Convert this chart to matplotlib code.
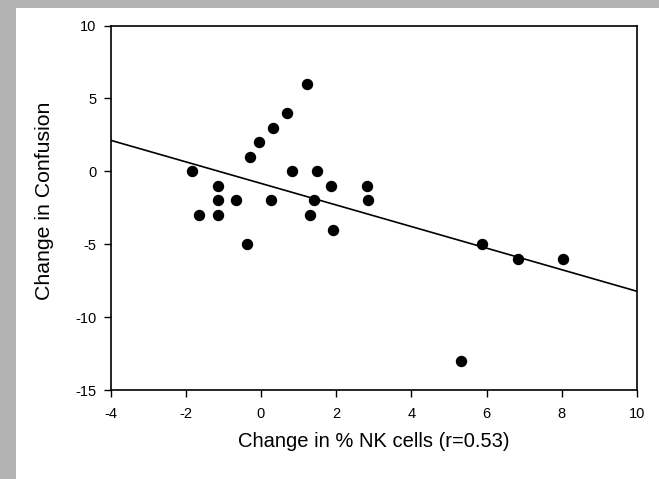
import numpy as np
import matplotlib
matplotlib.use("Agg")
import matplotlib.pyplot as plt
from matplotlib.patches import Rectangle

# data
nk_change = [-1.82, -1.66, -1.13, -1.13, -1.13, -0.67, -0.38, -0.28, -0.06, 0.27,
             0.33, 0.69, 0.82, 1.23, 1.31, 1.42, 1.48, 1.86, 1.91, 2.81,
             2.86, 5.33, 5.89, 6.84, 8.03]
confusion_change = [0, -3, -1, -2, -3, -2, -5, 1, 2, -2,
                    3, 4, 0, 6, -3, -2, 0, -1, -4, -1,
                    -2, -13, -5, -6, -6]
fit_slope = -0.74
fit_intercept = -0.83
x_ticks = [-4, -2, 0, 2, 4, 6, 8, 10]
y_ticks = [-15, -10, -5, 0, 5, 10]

plt.rcParams["font.family"] = ["Liberation Sans", "DejaVu Sans"]
plt.rcParams["axes.unicode_minus"] = False

fig = plt.figure(figsize=(6.59, 4.79), dpi=100)
fig.patch.set_facecolor("#b3b3b3")
# white page area of the scan
fig.patches.append(Rectangle((16 / 659, 0), 1, 1 - 8 / 479, transform=fig.transFigure,
                             facecolor="white", edgecolor="none", zorder=-10))

ax = fig.add_axes([110.5 / 659, 1 - 390 / 479, (637 - 110.5) / 659, (390 - 25.5) / 479])
ax.set_facecolor("white")

xs = np.array([-4, 10])
ax.plot(xs, fit_intercept + fit_slope * xs, color="black", linewidth=1.2)
ax.plot(nk_change, confusion_change, "o", color="black", markersize=7.2)

ax.set_xlim(-4, 10)
ax.set_ylim(-15, 10)
ax.set_xticks(x_ticks)
ax.set_yticks(y_ticks)
ax.tick_params(direction="out", length=5, width=1, labelsize=10.5)
ax.tick_params(axis="x", pad=7)
ax.tick_params(axis="y", pad=5)
for s in ax.spines.values():
    s.set_linewidth(1.2)

ax.set_xlabel("Change in % NK cells (r=0.53)", fontsize=14.5, labelpad=8)
ax.set_ylabel("Change in Confusion", fontsize=15.3)
ax.yaxis.set_label_coords(-0.107, 0.52)

fig.savefig("out.png", dpi=100, facecolor=fig.get_facecolor())
